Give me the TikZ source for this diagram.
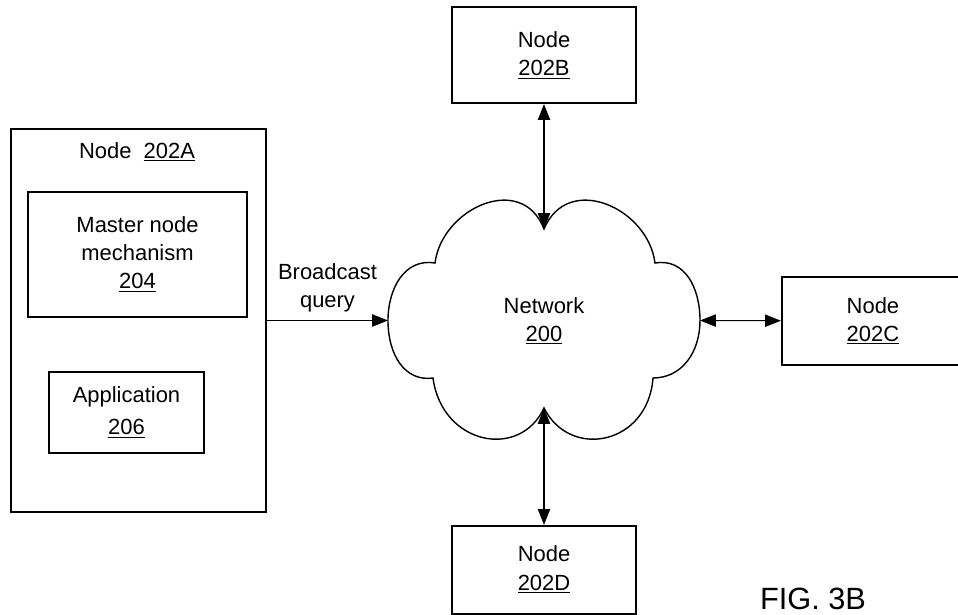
\documentclass[tikz,border=0pt]{standalone}
\usepackage{fontspec}
\setmainfont{Liberation Sans}
\usetikzlibrary{arrows.meta,positioning}
\begin{document}
\begin{tikzpicture}[
  x=0.02cm, y=-0.02cm,
  font=\fontsize{12.5}{16}\selectfont,
  nodebox/.style={rectangle, draw, line width=1.2pt, align=center, inner sep=0pt, minimum width=3.68cm, minimum height=1.76cm},
  subbox/.style={rectangle, draw, line width=0.6pt, align=center, inner sep=0pt},
  sendarrow/.style={-{Triangle[length=9pt,width=7pt]}, line width=0.6pt},
  linkarrow/.style={{Triangle[length=9pt,width=7pt]}-{Triangle[length=9pt,width=7pt]}, line width=0.6pt},
  cloudline/.style={draw, line width=0.8pt}
]
\useasboundingbox (0,0) rectangle (958,615);

% Node 202A
\node[subbox, line width=1.2pt, minimum width=5.1cm, minimum height=7.66cm] (nodeA) at (138.5,320.5) {};
\node (titleA) at (137,152) {Node~~\underline{202A}};
\node[subbox, minimum width=4.38cm, minimum height=2.5cm] (master) at (137.5,254.5) {Master node\\mechanism\\\underline{204}};
\node[subbox, minimum width=3.1cm, minimum height=1.62cm] (app) at (126.5,412.5) {Application\\[2pt]\underline{206}};

% Network cloud
\coordinate (netW) at (388,320.5);
\coordinate (nettop) at (544,229);
\coordinate (netE) at (700,320.5);
\coordinate (netS) at (544,408);
\draw[cloudline] (netW)
  .. controls (388,288) and (405,258) .. (435,263)
  .. controls (442,208) and (522,172) .. (nettop)
  .. controls (568,172) and (648,208) .. (655,263)
  .. controls (685,258) and (700,288) .. (netE)
  .. controls (700,352) and (682,378) .. (653,378)
  .. controls (648,445) and (570,460) .. (netS)
  .. controls (520,460) and (442,445) .. (433,378)
  .. controls (405,382) and (388,355) .. (netW);
\node[align=center] (net) at (544,321) {Network\\\underline{200}};

% Other nodes
\node[nodebox, minimum height=1.92cm, above of=net, node distance=5.32cm] (nodeB) {Node\\\underline{202B}};
\node[nodebox, minimum width=3.64cm, right of=net, node distance=6.58cm] (nodeC) {Node\\\underline{202C}};
\node[nodebox, below of=net, node distance=4.98cm] (nodeD) {Node\\\underline{202D}};

% Connections
\draw[sendarrow] (nodeA.east |- netW) -- (netW) node[midway, above=1pt, align=center] {Broadcast\\query};
\draw[linkarrow] (nodeB) -- (nettop);
\draw[linkarrow] (netE) -- (nodeC);
\draw[linkarrow] (netS) -- (nodeD);

\node[font=\fontsize{17.5}{20}\selectfont] (fig) at (813,599) {FIG. 3B};
\end{tikzpicture}
\end{document}
